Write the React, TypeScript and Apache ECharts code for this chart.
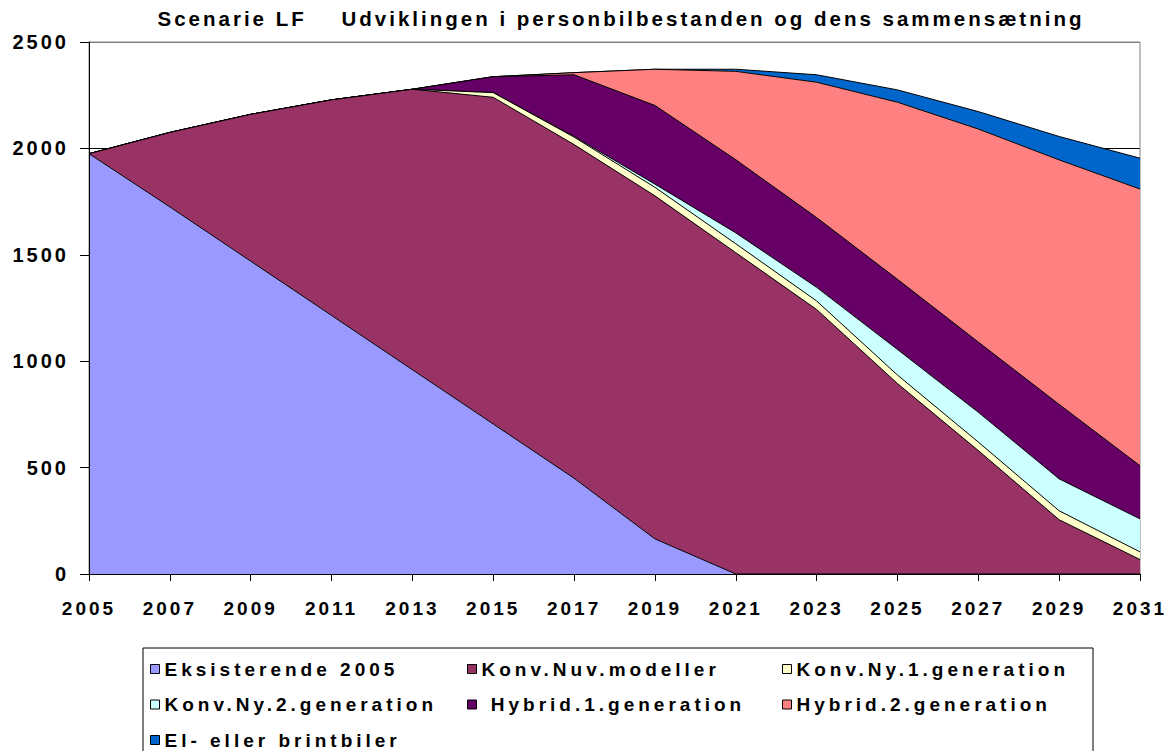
import React, { useEffect, useRef } from "react";
import * as echarts from "echarts";

const years = ["2005", "2007", "2009", "2011", "2013", "2015", "2017", "2019", "2021", "2023", "2025", "2027", "2029", "2031"];

const eksisterende2005 = [1975, 1725, 1470, 1215, 960, 705, 450, 165, 0, 0, 0, 0, 0, 0];
const konvNuvModeller = [0, 350, 690, 1013, 1318, 1535, 1568, 1612, 1510, 1243, 895, 580, 255, 68];
const konvNy1Generation = [0, 0, 0, 0, 0, 22, 35, 40, 42, 40, 40, 40, 42, 36];
const konvNy2Generation = [0, 0, 0, 0, 0, 0, 3, 15, 51, 64, 120, 140, 150, 155];
const hybrid1Generation = [0, 0, 0, 0, 0, 75, 290, 370, 344, 328, 330, 330, 350, 250];
const hybrid2Generation = [0, 0, 0, 0, 0, 0, 10, 170, 415, 636, 832, 1001, 1149, 1300];
const elEllerBrintbiler = [0, 0, 0, 0, 0, 0, 0, 0, 10, 35, 58, 82, 110, 145];

const seriesNames = [
  "Eksisterende 2005",
  "Konv.Nuv.modeller",
  "Konv.Ny.1.generation",
  "Konv.Ny.2.generation",
  "Hybrid.1.generation",
  "Hybrid.2.generation",
  "El- eller brintbiler",
];
const seriesData = [
  eksisterende2005,
  konvNuvModeller,
  konvNy1Generation,
  konvNy2Generation,
  hybrid1Generation,
  hybrid2Generation,
  elEllerBrintbiler,
];
const colors = ["#9999FF", "#993366", "#FFFFCC", "#CCFFFF", "#660066", "#FF8080", "#0066CC"];

const yMin = 0;
const yMax = 2500;
const yStep = 500;

const titleText = "Scenarie LF    Udviklingen i personbilbestanden og dens sammensætning";

export default function App() {
  const ref = useRef<HTMLDivElement>(null);

  useEffect(() => {
    const chart = echarts.init(ref.current as HTMLDivElement, null, { renderer: "svg" });

    const legendCols = [[0, 3, 6], [1, 4], [2, 5]];
    const colLeft = [150, 467, 782];

    const labelFont = {
      fontFamily: "Liberation Sans",
      fontWeight: "bold" as const,
      fontSize: 19,
      color: "#000",
    };

    const option: any = {
      animation: false,
      backgroundColor: "#fff",
      title: {
        text: titleText,
        left: 621,
        top: 8,
        textAlign: "center",
        padding: 0,
        textStyle: {
          fontFamily: "Liberation Sans",
          fontWeight: "bold",
          fontSize: 20.5,
          color: "#000",
        },
      },
      grid: {
        left: 89,
        right: 32,
        top: 42,
        bottom: 177,
        show: true,
        borderColor: "#808080",
        borderWidth: 1,
        backgroundColor: "transparent",
      },
      xAxis: {
        type: "category",
        data: years,
        boundaryGap: false,
        z: 20,
        axisLine: { show: true, lineStyle: { color: "#000", width: 1 } },
        axisTick: { show: true, length: 7, lineStyle: { color: "#000", width: 1 } },
        axisLabel: { ...labelFont, margin: 25, interval: 0 },
        splitLine: { show: false },
      },
      yAxis: [
        {
          type: "value",
          min: yMin,
          max: yMax,
          interval: yStep,
          z: -1,
          axisLine: { show: false },
          axisTick: { show: false },
          axisLabel: { show: false },
          splitLine: {
            show: true,
            lineStyle: { color: ["#000", "#000", "#000", "#000", "#000", "#808080"], width: 1 },
          },
        },
        {
          type: "value",
          min: yMin,
          max: yMax,
          interval: yStep,
          position: "left",
          z: 20,
          axisLine: { show: true, lineStyle: { color: "#000", width: 1 } },
          axisTick: { show: true, length: 9, lineStyle: { color: "#000", width: 1 } },
          axisLabel: { ...labelFont, fontSize: 20, margin: 20, formatter: (v: number) => String(v) },
          splitLine: { show: false },
        },
      ],
      legend: legendCols.map((idx, c) => ({
        orient: "vertical",
        left: colLeft[c],
        top: 659,
        padding: 0,
        itemGap: 15.5,
        itemWidth: 9,
        itemHeight: 9,
        icon: "rect",
        selectedMode: false,
        formatter: (name: string) => (name === "Hybrid.1.generation" ? " " + name : name),
        textStyle: {
          fontFamily: "Arial",
          fontWeight: "bold",
          fontSize: 19,
          color: "#000",
          lineHeight: 20,
        },
        data: idx.map((i) => ({
          name: seriesNames[i],
          icon: "rect",
          itemStyle: { color: colors[i], borderColor: "#000", borderWidth: 1 },
        })),
      })),
      graphic: [
        {
          type: "rect",
          shape: { x: 143, y: 648, width: 950, height: 130 },
          style: { fill: "none", stroke: "#000", lineWidth: 1 },
          z: 1,
        },
      ],
      series: seriesNames.map((name, i) => ({
        name,
        type: "line",
        stack: "total",
        data: seriesData[i],
        yAxisIndex: 0,
        symbol: "none",
        showSymbol: false,
        color: colors[i],
        lineStyle: { color: "#000", width: 1 },
        itemStyle: { color: colors[i] },
        areaStyle: { color: colors[i], opacity: 1 },
        z: 12 - i,
        emphasis: { disabled: true },
      })),
    };

    chart.setOption(option);
    return () => chart.dispose();
  }, []);

  return (
    <div style={{ position: "absolute", left: 0, top: 0, width: 1172, height: 751, background: "#fff" }}>
      <style>{`.cv text{letter-spacing:3px;white-space:pre}.cv text[style*="Arial"]{letter-spacing:4px}`}</style>
      <div ref={ref} className="cv" style={{ width: 1172, height: 751 }} />
    </div>
  );
}
